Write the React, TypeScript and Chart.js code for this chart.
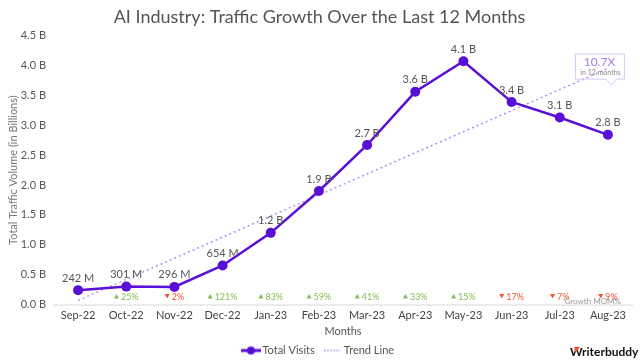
import React, { useEffect, useRef } from "react";
import { Chart, registerables } from "chart.js";

Chart.register(...registerables);

const months = ["Sep-22", "Oct-22", "Nov-22", "Dec-22", "Jan-23", "Feb-23", "Mar-23", "Apr-23", "May-23", "Jun-23", "Jul-23", "Aug-23"];
const totalVisits = [0.242, 0.301, 0.296, 0.654, 1.2, 1.9, 2.67, 3.56, 4.07, 3.39, 3.13, 2.84];
const visitLabels = ["242 M", "301 M", "296 M", "654 M", "1.2 B", "1.9 B", "2.7 B", "3.6 B", "4.1 B", "3.4 B", "3.1 B", "2.8 B"];
const momGrowth: (number | null)[] = [null, 25, -2, 121, 83, 59, 41, 33, 15, -17, -7, -9];
const trendLine: (number | null)[] = [0.07, null, null, null, null, null, null, null, null, null, null, 3.95];
const yTicks = [0, 0.5, 1, 1.5, 2, 2.5, 3, 3.5, 4, 4.5];

const FONT = "Lato, 'Open Sans', sans-serif";
const MAIN = "#5a0fd6";
const TREND = "#b68cf0";
const GREEN = "#80bd55";
const RED = "#f4532e";

function makeVisitsMarker(): HTMLCanvasElement {
  const c = document.createElement("canvas");
  c.width = 20;
  c.height = 10;
  const ctx = c.getContext("2d")!;
  ctx.strokeStyle = MAIN;
  ctx.lineWidth = 3;
  ctx.beginPath();
  ctx.moveTo(0, 5);
  ctx.lineTo(20, 5);
  ctx.stroke();
  ctx.fillStyle = MAIN;
  ctx.beginPath();
  ctx.arc(10, 5, 4, 0, Math.PI * 2);
  ctx.fill();
  return c;
}

function makeTrendMarker(): HTMLCanvasElement {
  const c = document.createElement("canvas");
  c.width = 16;
  c.height = 4;
  const ctx = c.getContext("2d")!;
  ctx.strokeStyle = TREND;
  ctx.lineWidth = 1.5;
  ctx.setLineDash([1.5, 1.5]);
  ctx.beginPath();
  ctx.moveTo(0, 2);
  ctx.lineTo(16, 2);
  ctx.stroke();
  return c;
}

const overlayPlugin = {
  id: "overlay",
  afterDatasetsDraw(chart: any) {
    const ctx: CanvasRenderingContext2D = chart.ctx;
    const meta = chart.getDatasetMeta(0);
    const xScale = chart.scales.x;
    const yScale = chart.scales.y;
    ctx.save();
    // point labels
    ctx.font = `11px ${FONT}`;
    ctx.fillStyle = "#555";
    ctx.textAlign = "center";
    ctx.textBaseline = "middle";
    meta.data.forEach((pt: any, i: number) => {
      ctx.fillText(visitLabels[i], pt.x, pt.y - 12);
    });
    // MoM growth row
    const rowY = yScale.getPixelForValue(0) - 8;
    ctx.font = `9px ${FONT}`;
    momGrowth.forEach((g, i) => {
      if (g === null) return;
      const x = xScale.getPixelForValue(i);
      const txt = `${Math.abs(g)}%`;
      const w = ctx.measureText(txt).width;
      const total = 5 + 2 + w;
      const sx = x - total / 2;
      const col = g >= 0 ? GREEN : RED;
      ctx.fillStyle = col;
      ctx.beginPath();
      if (g >= 0) {
        ctx.moveTo(sx, rowY + 2);
        ctx.lineTo(sx + 5, rowY + 2);
        ctx.lineTo(sx + 2.5, rowY - 2.5);
      } else {
        ctx.moveTo(sx, rowY - 2.5);
        ctx.lineTo(sx + 5, rowY - 2.5);
        ctx.lineTo(sx + 2.5, rowY + 2);
      }
      ctx.closePath();
      ctx.fill();
      ctx.textAlign = "left";
      ctx.fillText(txt, sx + 7, rowY);
    });
    // Growth MOM% label
    ctx.font = `8px ${FONT}`;
    ctx.fillStyle = "#999";
    ctx.textAlign = "right";
    ctx.fillText("Growth MOM%", xScale.getPixelForValue(11) + 13, rowY + 5);

    // callout
    const ax = xScale.getPixelForValue(11) + 3;
    const tipY = yScale.getPixelForValue(3.68);
    const bw = 49, bh = 25;
    const bx = ax - 36, by = tipY - 6 - bh;
    ctx.strokeStyle = "#d9c8f5";
    ctx.lineWidth = 1;
    ctx.beginPath();
    ctx.moveTo(bx + 0.5, by + 0.5);
    ctx.lineTo(bx + bw + 0.5, by + 0.5);
    ctx.lineTo(bx + bw + 0.5, by + bh + 0.5);
    ctx.lineTo(ax + 5.5, by + bh + 0.5);
    ctx.lineTo(ax + 0.5, tipY + 0.5);
    ctx.lineTo(ax - 4.5, by + bh + 0.5);
    ctx.lineTo(bx + 0.5, by + bh + 0.5);
    ctx.closePath();
    ctx.stroke();
    ctx.textAlign = "center";
    ctx.fillStyle = "#a77fe6";
    ctx.font = `12px ${FONT}`;
    ctx.fillText("10.7X", bx + bw / 2, by + 9);
    ctx.fillStyle = "#888";
    ctx.font = `7px ${FONT}`;
    ctx.fillText("in 12 months", bx + bw / 2 + 1, by + 19);

    // logo
    ctx.textAlign = "left";
    ctx.fillStyle = "#111";
    ctx.font = `bold 12px ${FONT}`;
    ctx.fillText("Writerbuddy", 570, chart.height - 8);
    ctx.fillStyle = "#f0502a";
    ctx.beginPath();
    ctx.moveTo(574, chart.height - 13);
    ctx.lineTo(580, chart.height - 13);
    ctx.lineTo(575.5, chart.height - 7);
    ctx.closePath();
    ctx.fill();
    ctx.restore();
  },
};

export default function App() {
  const ref = useRef<HTMLCanvasElement | null>(null);
  useEffect(() => {
    document.body.style.margin = "0";
    const visitsMarker = makeVisitsMarker();
    const trendMarker = makeTrendMarker();
    const chart = new Chart(ref.current!, {
      type: "line",
      data: {
        labels: months,
        datasets: [
          {
            label: "Total Visits",
            data: totalVisits,
            borderColor: MAIN,
            backgroundColor: MAIN,
            borderWidth: 2.5,
            pointRadius: 5,
            pointBackgroundColor: MAIN,
            pointBorderWidth: 0,
            tension: 0,
          },
          {
            label: "Trend Line",
            data: trendLine,
            spanGaps: true,
            borderColor: TREND,
            backgroundColor: TREND,
            borderWidth: 1.5,
            borderDash: [2, 3],
            pointRadius: 0,
          },
        ],
      },
      options: {
        responsive: false,
        animation: false,
        layout: { padding: { left: 7, right: 8, top: 0, bottom: -6 } },
        scales: {
          x: {
            offset: true,
            grid: { display: false, drawTicks: false },
            border: { color: "#ebebeb", width: 2 },
            ticks: { color: "#444", font: { family: FONT, size: 11 }, padding: 4, maxRotation: 0 },
            title: { display: true, text: "Months", color: "#555", font: { family: FONT, size: 11 }, padding: { top: -1, bottom: 1 } },
            afterFit: (s: any) => {
              s.paddingLeft = 0;
              s.paddingRight = 0;
            },
          },
          y: {
            min: 0,
            max: 4.5,
            afterBuildTicks: (axis: any) => {
              axis.ticks = yTicks.map((v) => ({ value: v }));
            },
            afterFit: (s: any) => {
              s.width = 47;
            },
            grid: { display: false, drawTicks: false },
            border: { display: false },
            ticks: {
              color: "#555",
              font: { family: FONT, size: 11 },
              padding: 8,
              callback: (v: any) => `${Number(v).toFixed(1)} B`,
            },
            title: { display: true, text: "Total Traffic Volume (in Billions)", color: "#777", font: { family: FONT, size: 11 }, padding: { top: 0, bottom: 2 } },
          },
        },
        plugins: {
          title: {
            display: true,
            text: "AI Industry: Traffic Growth Over the Last 12 Months",
            color: "#555",
            font: { family: FONT, size: 18, weight: "normal" },
            padding: { top: 6, bottom: 8 },
          },
          legend: {
            position: "bottom",
            labels: {
              usePointStyle: true,
              pointStyleWidth: 12,
              color: "#555",
              font: { family: FONT, size: 11 },
              padding: 6,
              generateLabels: (ch: any) => {
                const items = (Chart.defaults as any).plugins.legend.labels.generateLabels(ch);
                if (items[0]) {
                  items[0].pointStyle = visitsMarker;
                  items[0].text = items[0].text + "  ";
                }
                if (items[1]) items[1].pointStyle = trendMarker;
                return items;
              },
            },
          },
          tooltip: { enabled: false },
        },
      },
      plugins: [overlayPlugin],
    });
    return () => chart.destroy();
  }, []);
  return (
    <div style={{ position: "fixed", left: 0, top: 0, width: 640, height: 360, background: "#fff" }}>
      <canvas ref={ref} width={640} height={360} />
    </div>
  );
}
